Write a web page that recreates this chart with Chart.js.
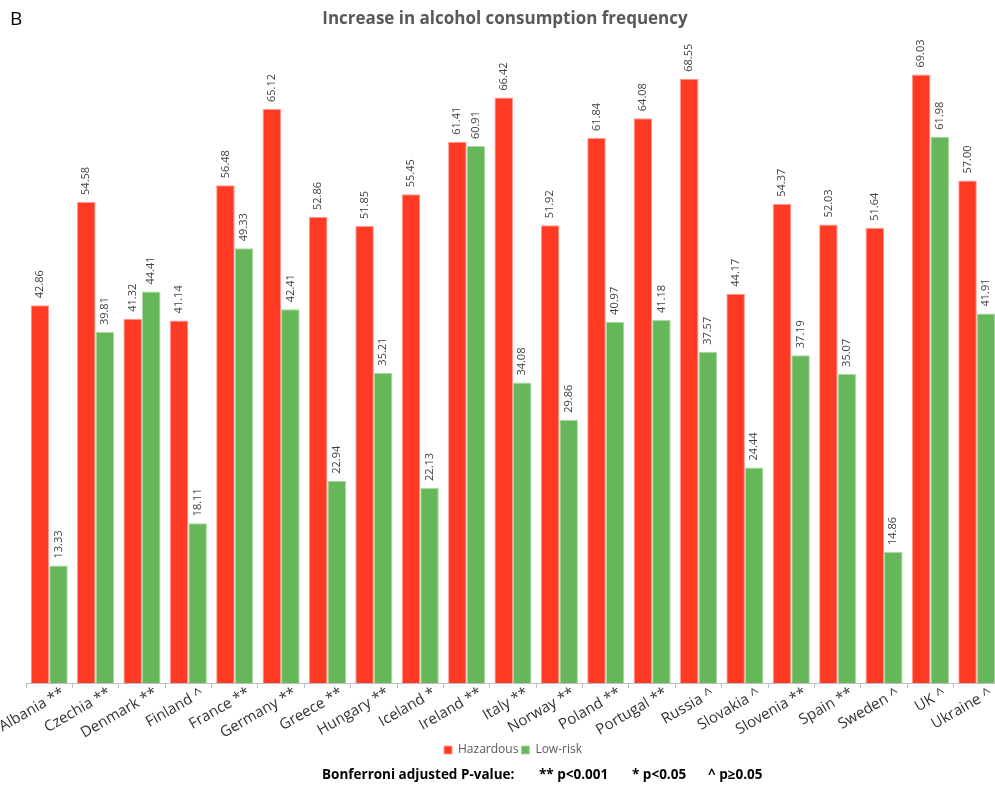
<!DOCTYPE html>
<html lang="en">
<head>
<meta charset="UTF-8">
<title>Increase in alcohol consumption frequency</title>
<script src="https://cdn.jsdelivr.net/npm/chart.js"></script>
<style>
    html, body { margin: 0; padding: 0; background: #fff; overflow: hidden; }
    #wrap { width: 1002px; height: 787px; position: relative; }
</style>
</head>
<body>
<div id="wrap"><canvas id="myChart"></canvas></div>
<script>
    const countries = ['Albania **', 'Czechia **', 'Denmark **', 'Finland ^', 'France **', 'Germany **',
        'Greece **', 'Hungary **', 'Iceland *', 'Ireland **', 'Italy **', 'Norway **', 'Poland **',
        'Portugal **', 'Russia ^', 'Slovakia ^', 'Slovenia **', 'Spain **', 'Sweden ^', 'UK ^', 'Ukraine ^'];
    const hazardous = [42.86, 54.58, 41.32, 41.14, 56.48, 65.12, 52.86, 51.85, 55.45, 61.41, 66.42,
        51.92, 61.84, 64.08, 68.55, 44.17, 54.37, 52.03, 51.64, 69.03, 57.00];
    const lowRisk = [13.33, 39.81, 44.41, 18.11, 49.33, 42.41, 22.94, 35.21, 22.13, 60.91, 34.08,
        29.86, 40.97, 41.18, 37.57, 24.44, 37.19, 35.07, 14.86, 61.98, 41.91];
    const footerParts = [
        ['Bonferroni adjusted P-value:', 322],
        ['** p<0.001', 539],
        ['* p<0.05', 632],
        ['^ p\u22650.05', 708]
    ];

    const FONT = '"Open Sans", "Noto Sans", sans-serif';

    // value labels above bars, turned 90 degrees
    const barLabels = {
        id: 'barLabels',
        afterDatasetsDraw(chart) {
            const ctx = chart.ctx;
            ctx.save();
            ctx.font = '11px ' + FONT;
            ctx.fillStyle = '#404040';
            ctx.textAlign = 'left';
            ctx.textBaseline = 'middle';
            chart.data.datasets.forEach((ds, i) => {
                chart.getDatasetMeta(i).data.forEach((bar, j) => {
                    ctx.save();
                    ctx.translate(bar.x, bar.y - 7);
                    ctx.rotate(-Math.PI / 2);
                    ctx.fillText(ds.data[j].toFixed(2), 0, 0);
                    ctx.restore();
                });
            });
            ctx.restore();
        }
    };

    // panel letter, title and p-value footer
    const extraText = {
        id: 'extraText',
        afterDraw(chart) {
            const ctx = chart.ctx;
            ctx.save();
            ctx.textBaseline = 'middle';
            ctx.fillStyle = '#000';
            ctx.font = '19px ' + FONT;
            ctx.textAlign = 'left';
            ctx.fillText('B', 10, 20);

            ctx.fillStyle = '#595959';
            ctx.font = 'bold 17px ' + FONT;
            ctx.textAlign = 'center';
            ctx.fillText('Increase in alcohol consumption frequency', 505, 19);

            ctx.fillStyle = '#000';
            ctx.font = 'bold 13.5px ' + FONT;
            ctx.textAlign = 'left';
            footerParts.forEach(p => ctx.fillText(p[0], p[1], 775));
            ctx.restore();
        }
    };

    new Chart(document.getElementById('myChart'), {
        type: 'bar',
        data: {
            labels: countries,
            datasets: [{
                label: 'Hazardous',
                data: hazardous,
                backgroundColor: '#ff3a24',
                borderColor: '#ff9a8c',
                borderWidth: 1
            }, {
                label: 'Low-risk',
                data: lowRisk,
                backgroundColor: '#66b75a',
                borderColor: '#a9d9a0',
                borderWidth: 1
            }]
        },
        options: {
            responsive: true,
            maintainAspectRatio: false,
            animation: false,
            layout: { padding: { left: 26, right: 2, top: 66, bottom: 21 } },
            datasets: { bar: { categoryPercentage: 0.8, barPercentage: 1.0 } },
            plugins: {
                legend: {
                    position: 'bottom',
                    labels: {
                        boxWidth: 8,
                        boxHeight: 8,
                        padding: 3,
                        color: '#595959',
                        font: { family: FONT, size: 12 }
                    }
                },
                title: { display: false },
                tooltip: { enabled: false }
            },
            scales: {
                x: {
                    grid: {
                        drawOnChartArea: false,
                        drawTicks: true,
                        tickLength: 5,
                        color: '#bfbfbf'
                    },
                    border: { display: true, color: '#bfbfbf' },
                    ticks: {
                        minRotation: 30,
                        maxRotation: 30,
                        color: '#333',
                        padding: -4,
                        labelOffset: 14,
                        font: { family: FONT, size: 15 }
                    },
                    afterFit(scale) {
                        scale.height = 58;
                        scale.paddingLeft = 0;
                        scale.paddingRight = 0;
                    }
                },
                y: {
                    display: false,
                    min: 0,
                    max: 70
                }
            }
        },
        plugins: [barLabels, extraText]
    });
</script>
</body>
</html>
